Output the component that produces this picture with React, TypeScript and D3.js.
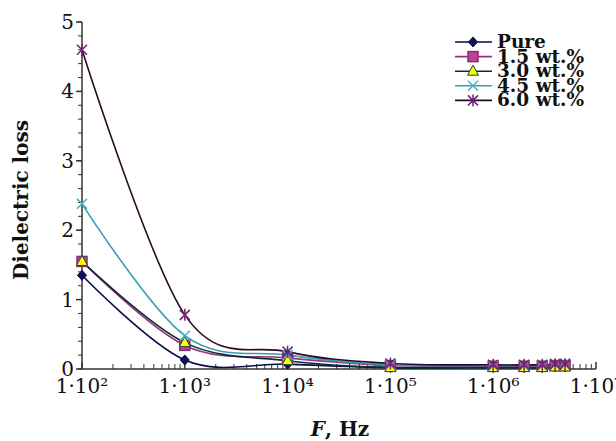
import React from "react";
import * as d3 from "d3";

// frequencies, Hz
const freqs = [1e2, 1e3, 1e4, 1e5, 1e6, 2e6, 3e6, 4e6, 5e6];

const seriesNames = ["Pure", "1.5 wt.%", "3.0 wt.%", "4.5 wt.%", "6.0 wt.%"];
const pure = [1.35, 0.13, 0.07, 0.02, 0.02, 0.02, 0.02, 0.03, 0.03];
const wt15 = [1.55, 0.34, 0.16, 0.05, 0.04, 0.04, 0.04, 0.05, 0.05];
const wt30 = [1.55, 0.38, 0.12, 0.02, 0.02, 0.02, 0.02, 0.03, 0.03];
const wt45 = [2.38, 0.48, 0.2, 0.06, 0.05, 0.05, 0.05, 0.07, 0.08];
const wt60 = [4.6, 0.78, 0.25, 0.08, 0.06, 0.06, 0.06, 0.07, 0.07];

const yTicks = [0, 1, 2, 3, 4, 5];
const xTickExp = [2, 3, 4, 5, 6, 7];

const allValues = [pure, wt15, wt30, wt45, wt60];
const lineColors = ["#0a0a4a", "#993380", "#0a3030", "#33a0b4", "#2a0a2a"];

const serif = "'DejaVu Serif', 'Liberation Serif', serif";

const Marker = ({ kind, x, y }: { kind: number; x: number; y: number }) => {
  if (kind === 0)
    return (
      <path
        d={`M${x},${y - 5}L${x + 4.5},${y}L${x},${y + 5}L${x - 4.5},${y}Z`}
        fill="#10105a"
        stroke="#0a0a40"
        strokeWidth={1}
      />
    );
  if (kind === 1)
    return (
      <rect x={x - 5} y={y - 5} width={10} height={10} fill="#c040a0" stroke="#80306a" strokeWidth={1.5} />
    );
  if (kind === 2)
    return (
      <path
        d={`M${x},${y - 6}L${x + 5.5},${y + 4}L${x - 5.5},${y + 4}Z`}
        fill="#ffff00"
        stroke="#204040"
        strokeWidth={1}
      />
    );
  if (kind === 3)
    return (
      <path
        d={`M${x - 5},${y - 5}L${x + 5},${y + 5}M${x - 5},${y + 5}L${x + 5},${y - 5}`}
        stroke="#40b0c8"
        strokeWidth={1.5}
      />
    );
  return (
    <path
      d={`M${x - 5},${y - 5}L${x + 5},${y + 5}M${x - 5},${y + 5}L${x + 5},${y - 5}M${x},${y - 6}L${x},${y + 6}`}
      stroke="#702070"
      strokeWidth={1.5}
    />
  );
};

const Chart = () => {
  const x = d3.scaleLog().domain([1e2, 1e7]).range([82, 596]);
  const y = d3.scaleLinear().domain([0, 5]).range([369, 22]);

  const line = d3
    .line<[number, number]>()
    .x(d => x(d[0]))
    .y(d => y(d[1]))
    .curve(d3.curveCardinal);

  const minorX: number[] = [];
  for (let e = 2; e < 7; e++) for (let m = 2; m <= 9; m++) minorX.push(m * Math.pow(10, e));
  const minorY = d3.range(0, 5.01, 0.2);

  const sup: Record<string, string> = { "2": "²", "3": "³", "4": "⁴", "5": "⁵", "6": "⁶", "7": "⁷" };

  return (
    <svg width={616} height={441} style={{ display: "block", position: "absolute", left: 0, top: 0 }}>
      <rect width={616} height={441} fill="#fff" />
      {/* axes */}
      <g stroke="#333" strokeWidth={1.5}>
        <line x1={82} x2={82} y1={22} y2={369} />
        <line x1={82} x2={596} y1={369} y2={369} />
        {minorY.map(v => (
          <line key={"my" + v} x1={78} x2={82} y1={y(v)} y2={y(v)} strokeWidth={1} />
        ))}
        {yTicks.map(v => (
          <line key={"y" + v} x1={76} x2={82} y1={y(v)} y2={y(v)} />
        ))}
        {minorX.map(v => (
          <line key={"mx" + v} x1={x(v)} x2={x(v)} y1={369} y2={364} strokeWidth={1} />
        ))}
        {xTickExp.map(e => (
          <line key={"x" + e} x1={x(Math.pow(10, e))} x2={x(Math.pow(10, e))} y1={369} y2={362} />
        ))}
      </g>
      <g fontFamily={serif} fontSize={20} fill="#111">
        {yTicks.map(v => (
          <text key={"yl" + v} x={74} y={y(v) + 7} textAnchor="end">
            {v}
          </text>
        ))}
        {xTickExp.map(e => (
          <text key={"xl" + e} x={x(Math.pow(10, e))} y={393} textAnchor="middle">
            1·10{sup[String(e)]}
          </text>
        ))}
      </g>
      {/* series */}
      {allValues.map((vals, i) => (
        <path
          key={"l" + i}
          d={line(freqs.map((f, j) => [f, vals[j]] as [number, number])) || ""}
          fill="none"
          stroke={lineColors[i]}
          strokeWidth={1.6}
        />
      ))}
      {allValues.map((vals, i) =>
        vals.map((v, j) => <Marker key={"m" + i + "-" + j} kind={i} x={x(freqs[j])} y={y(v)} />)
      )}
      {/* legend */}
      {seriesNames.map((name, i) => {
        const ly = 42 + i * 14.6;
        return (
          <g key={"lg" + i}>
            <line x1={455} x2={492} y1={ly} y2={ly} stroke={lineColors[i]} strokeWidth={1.6} />
            <Marker kind={i} x={473} y={ly} />
            <text x={497} y={ly + 6} fontFamily={serif} fontSize={18.5} fontWeight="bold" fill="#111">
              {name}
            </text>
          </g>
        );
      })}
      {/* axis titles */}
      <text
        transform="translate(28,200) rotate(-90)"
        textAnchor="middle"
        fontFamily={serif}
        fontSize={20}
        fontWeight="bold"
        fill="#111"
      >
        Dielectric loss
      </text>
      <text x={340} y={436} textAnchor="middle" fontFamily={serif} fontSize={20} fontWeight="bold" fill="#111">
        <tspan fontStyle="italic">F</tspan>, Hz
      </text>
    </svg>
  );
};

export default function App() {
  return <Chart />;
}
